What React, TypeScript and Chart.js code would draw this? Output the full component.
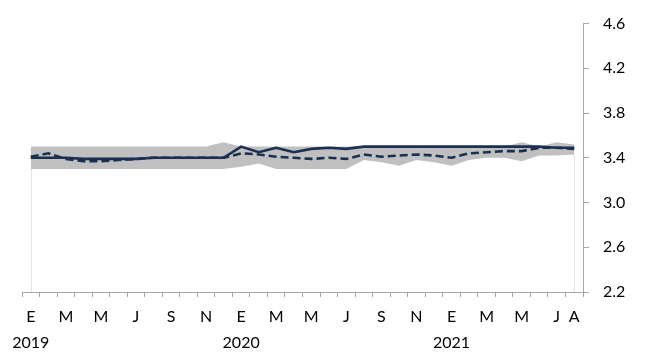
import React, { useEffect, useRef } from "react";
import { Chart, registerables } from "chart.js";

Chart.register(...registerables);

const months = [
  "2019-01", "2019-02", "2019-03", "2019-04", "2019-05", "2019-06", "2019-07", "2019-08",
  "2019-09", "2019-10", "2019-11", "2019-12", "2020-01", "2020-02", "2020-03", "2020-04",
  "2020-05", "2020-06", "2020-07", "2020-08", "2020-09", "2020-10", "2020-11", "2020-12",
  "2021-01", "2021-02", "2021-03", "2021-04", "2021-05", "2021-06", "2021-07", "2021-08",
];

const tickLabels: (string | string[])[] = [
  ["E", "2019"], "", "M", "", "M", "", "J", "", "S", "", "N", "",
  ["E", "2020"], "", "M", "", "M", "", "J", "", "S", "", "N", "",
  ["E", "2021"], "", "M", "", "M", "", "J", "A",
];

const solidSeries = [
  3.40, 3.40, 3.40, 3.39, 3.39, 3.39, 3.39, 3.40, 3.40, 3.40, 3.40, 3.40,
  3.50, 3.45, 3.49, 3.45, 3.48, 3.49, 3.48, 3.50, 3.50, 3.50, 3.50, 3.50,
  3.50, 3.50, 3.50, 3.50, 3.50, 3.50, 3.49, 3.49,
];

const dashedSeries = [
  3.41, 3.44, 3.39, 3.37, 3.37, 3.38, 3.39, 3.40, 3.40, 3.40, 3.40, 3.40,
  3.44, 3.43, 3.41, 3.40, 3.39, 3.40, 3.39, 3.43, 3.41, 3.42, 3.43, 3.42,
  3.40, 3.44, 3.45, 3.46, 3.46, 3.49, 3.49, 3.48,
];

const rangeMax = [
  3.50, 3.50, 3.50, 3.50, 3.50, 3.50, 3.50, 3.50, 3.50, 3.50, 3.50, 3.54,
  3.50, 3.50, 3.50, 3.50, 3.50, 3.50, 3.50, 3.50, 3.50, 3.50, 3.50, 3.50,
  3.50, 3.50, 3.50, 3.50, 3.54, 3.50, 3.54, 3.52,
];

const rangeMin = [
  3.30, 3.30, 3.30, 3.30, 3.30, 3.30, 3.30, 3.30, 3.30, 3.30, 3.30, 3.30,
  3.32, 3.35, 3.30, 3.30, 3.30, 3.30, 3.30, 3.38, 3.36, 3.33, 3.38, 3.36,
  3.33, 3.38, 3.40, 3.40, 3.37, 3.42, 3.42, 3.43,
];

const yTicks = { min: 2.2, max: 4.6, step: 0.4 };

const NAVY = "#1B2F50";
const BAND = "#C0C0C0";
const AXIS = "#A6A6A6";
const FONT = "Lato, 'Liberation Sans', sans-serif";

const edgePlugin = {
  id: "bandEdges",
  beforeDatasetsDraw(chart: any) {
    const { ctx, chartArea, scales } = chart;
    const xs = scales.x;
    const ys = scales.y;
    const idxs = [0, rangeMin.length - 1];
    ctx.save();
    ctx.strokeStyle = "#E4E4E4";
    ctx.lineWidth = 1;
    idxs.forEach((i) => {
      const px = Math.round(xs.getPixelForValue(i)) + 0.5;
      ctx.beginPath();
      ctx.moveTo(px, ys.getPixelForValue(rangeMin[i]));
      ctx.lineTo(px, chartArea.bottom);
      ctx.stroke();
    });
    ctx.restore();
  },
};

export default function App() {
  const canvasRef = useRef<HTMLCanvasElement | null>(null);

  useEffect(() => {
    if (!canvasRef.current) return;
    const chart = new Chart(canvasRef.current, {
      type: "line",
      data: {
        labels: months,
        datasets: [
          {
            label: "solid",
            data: solidSeries,
            borderColor: NAVY,
            borderWidth: 2.6,
            pointRadius: 0,
            tension: 0,
            fill: false,
          },
          {
            label: "dashed",
            data: dashedSeries,
            borderColor: NAVY,
            borderWidth: 2.6,
            borderDash: [8, 4],
            pointRadius: 0,
            tension: 0,
            fill: false,
          },
          {
            label: "max",
            data: rangeMax,
            borderWidth: 0,
            borderColor: BAND,
            backgroundColor: BAND,
            pointRadius: 0,
            tension: 0,
            fill: "+1",
          },
          {
            label: "min",
            data: rangeMin,
            borderWidth: 0,
            borderColor: BAND,
            pointRadius: 0,
            tension: 0,
            fill: false,
          },
        ],
      },
      options: {
        animation: false,
        responsive: true,
        maintainAspectRatio: false,
        layout: { padding: { left: 22, top: 14, right: 0, bottom: 0 } },
        plugins: {
          legend: { display: false },
          tooltip: { enabled: false },
        },
        scales: {
          x: {
            type: "category",
            offset: true,
            grid: {
              offset: true,
              drawOnChartArea: false,
              drawTicks: true,
              tickLength: 5,
              color: AXIS,
            },
            border: { display: true, color: AXIS, width: 1 },
            ticks: {
              autoSkip: false,
              maxRotation: 0,
              minRotation: 0,
              padding: 7,
              color: "#000000",
              font: { family: FONT, size: 16, lineHeight: 1.6 },
              callback: (_v: any, i: number) => tickLabels[i],
            },
            afterFit: (scale: any) => {
              scale.height = 64;
            },
          },
          y: {
            position: "right",
            min: yTicks.min,
            max: yTicks.max,
            grid: {
              drawOnChartArea: false,
              drawTicks: true,
              tickLength: 6,
              color: AXIS,
            },
            border: { display: true, color: AXIS, width: 1 },
            ticks: {
              stepSize: yTicks.step,
              padding: 14,
              color: "#000000",
              font: { family: FONT, size: 16 },
              callback: (v: any) => Number(v).toFixed(1),
            },
            afterFit: (scale: any) => {
              scale.width = 65;
            },
          },
        },
      },
      plugins: [edgePlugin],
    });
    return () => chart.destroy();
  }, []);

  return (
    <div
      style={{
        position: "fixed",
        left: 0,
        top: 0,
        width: 648,
        height: 356,
        background: "#ffffff",
      }}
    >
      <canvas ref={canvasRef} />
    </div>
  );
}
